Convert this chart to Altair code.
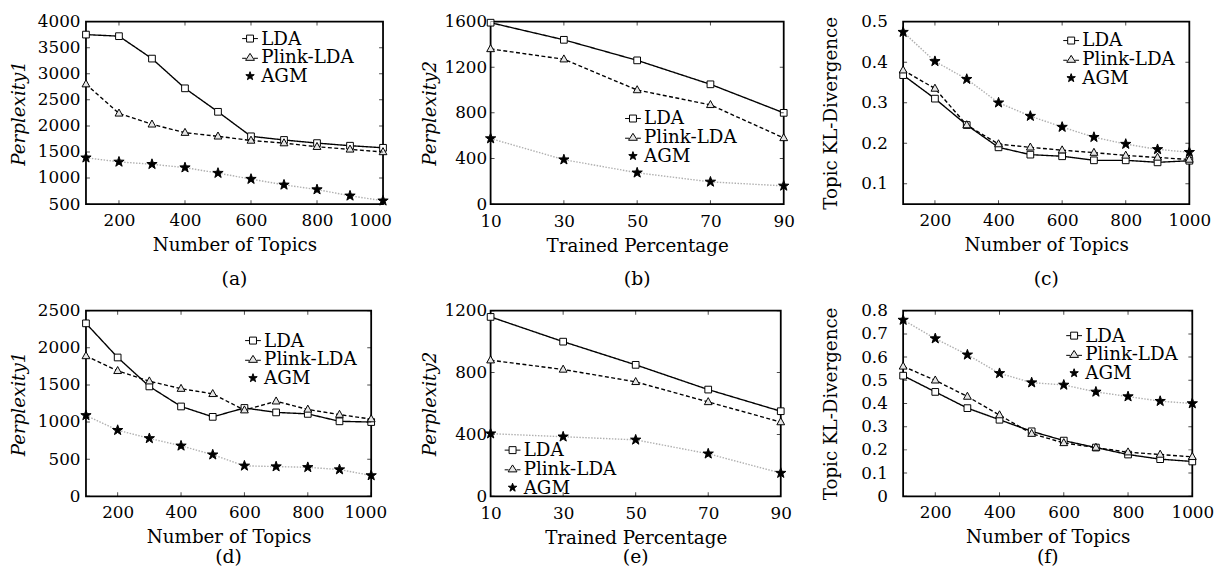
import altair as alt
import pandas as pd

FONT = "DejaVu Serif"
series = ["LDA", "Plink-LDA", "AGM"]
topics = [100, 200, 300, 400, 500, 600, 700, 800, 900, 1000]
percent = [10, 30, 50, 70, 90]

# (a)
a_lda = [3750, 3720, 3290, 2720, 2270, 1800, 1730, 1670, 1620, 1580]
a_plink = [2800, 2240, 2030, 1870, 1800, 1720, 1670, 1600, 1550, 1500]
a_agm = [1390, 1310, 1265, 1200, 1095, 980, 870, 780, 660, 565]
# (b)
b_lda = [1590, 1440, 1260, 1050, 800]
b_plink = [1360, 1270, 1000, 870, 580]
b_agm = [575, 390, 275, 195, 160]
# (c)
c_lda = [0.368, 0.31, 0.245, 0.19, 0.172, 0.168, 0.158, 0.158, 0.153, 0.157]
c_plink = [0.38, 0.335, 0.245, 0.198, 0.19, 0.183, 0.177, 0.17, 0.165, 0.16]
c_agm = [0.474, 0.402, 0.358, 0.300, 0.267, 0.240, 0.215, 0.198, 0.185, 0.178]
# (d)
d_lda = [2330, 1870, 1480, 1210, 1070, 1190, 1130, 1110, 1010, 1000]
d_plink = [1890, 1690, 1550, 1450, 1380, 1160, 1280, 1170, 1100, 1040]
d_agm = [1090, 890, 780, 680, 560, 410, 400, 390, 360, 280]
# (e)
e_lda = [1160, 1000, 850, 690, 550]
e_plink = [880, 820, 740, 610, 480]
e_agm = [405, 385, 365, 275, 150]
# (f)
f_lda = [0.52, 0.45, 0.38, 0.33, 0.28, 0.24, 0.21, 0.18, 0.16, 0.15]
f_plink = [0.56, 0.50, 0.43, 0.35, 0.27, 0.23, 0.21, 0.19, 0.18, 0.17]
f_agm = [0.76, 0.68, 0.61, 0.53, 0.49, 0.48, 0.45, 0.43, 0.41, 0.40]

# marker shapes (unit box -1..1)
SQUARE = "M-0.62,-0.62H0.62V0.62H-0.62Z"
TRIANGLE = "M0,-0.8L0.72,0.5H-0.72Z"
STAR = ("M0,-1L0.235,-0.324L0.951,-0.309L0.380,0.124L0.588,0.809L0,0.4"
        "L-0.588,0.809L-0.380,0.124L-0.951,-0.309L-0.235,-0.324Z")
# legend symbols: marker with short line stubs
LEG_LDA = "M-1,0H-0.44M0.44,0H1M-0.44,-0.44H0.44V0.44H-0.44Z"
LEG_PLINK = "M-1,0.12H-0.5M0.5,0.12H1M0,-0.5L0.56,0.38H-0.56Z"
LEG_AGM = ("M0,-0.56L0.132,-0.181L0.533,-0.173L0.213,0.069L0.329,0.453L0,0.224"
           "L-0.329,0.453L-0.213,0.069L-0.533,-0.173L-0.132,-0.181Z")

LINE_STYLE = {
    "LDA": dict(color="#000000", strokeDash=[1, 0], strokeWidth=1.4),
    "Plink-LDA": dict(color="#000000", strokeDash=[4, 2.5], strokeWidth=1.4),
    "AGM": dict(color="#b0b0b0", strokeDash=[1.5, 1.5], strokeWidth=1.4),
}
FILLS = ["#ffffff", "#e6e6e6", "#000000"]
STROKES = ["#000000", "#000000", "#000000"]


def panel(xv, ys, xtitle, ytitle, italic, xdom, xticks, ydom, yticks,
          caption, legx, legy, w, h, yfmt, lpad, tpad, xlpad, cap_off, last_off):
    rows = []
    for s, vals in zip(series, ys):
        for a, b in zip(xv, vals):
            rows.append({"x": a, "y": b, "series": s})
    df = pd.DataFrame(rows)
    xs = alt.Scale(domain=xdom, nice=False, zero=False)
    ysc = alt.Scale(domain=ydom, nice=False, zero=False)
    X = alt.X("x:Q", scale=xs, axis=alt.Axis(
        values=xticks, title=xtitle, format="d", ticks=False, domain=False, grid=False,
        labelPadding=xlpad, titlePadding=7, labelFlush=False,
        labelOffset=alt.condition("datum.value == %d" % xticks[-1], alt.value(last_off), alt.value(0))))
    Y = alt.Y("y:Q", scale=ysc, axis=alt.Axis(
        values=yticks, title=ytitle, ticks=False, domain=False, grid=False,
        labelPadding=lpad, titlePadding=tpad, format=yfmt,
        titleFontStyle="italic" if italic else "normal"))
    base = alt.Chart(df)
    layers = []
    for s in series:
        layers.append(base.transform_filter(alt.datum.series == s).mark_line(**LINE_STYLE[s]).encode(x=X, y=Y))
    pts = base.mark_point(filled=True, stroke="black", strokeWidth=1, size=120, opacity=1).encode(
        x=X, y=Y,
        shape=alt.Shape("series:N", scale=alt.Scale(domain=series, range=[SQUARE, TRIANGLE, STAR]), legend=None),
        fill=alt.Fill("series:N", scale=alt.Scale(domain=series, range=FILLS), legend=None),
    )
    leg = alt.Legend(title="", orient="none", legendX=legx, legendY=legy, symbolSize=256,
                     symbolStrokeColor="black", symbolStrokeWidth=1, rowPadding=0)
    legend_layer = base.transform_filter("false").mark_point(
        filled=True, strokeWidth=1, size=256, opacity=1).encode(
        x=X, y=Y,
        shape=alt.Shape("series:N", scale=alt.Scale(domain=series, range=[LEG_LDA, LEG_PLINK, LEG_AGM]), legend=leg),
        fill=alt.Fill("series:N", scale=alt.Scale(domain=series, range=FILLS), legend=leg),
        stroke=alt.Stroke("series:N", scale=alt.Scale(domain=series, range=STROKES), legend=leg),
    )
    # inward frame ticks
    yt = pd.DataFrame([{"x": xdom[0], "y": v} for v in yticks] + [{"x": xdom[1], "y": v} for v in yticks])
    xt = pd.DataFrame([{"x": v, "y": ydom[0]} for v in xticks] + [{"x": v, "y": ydom[1]} for v in xticks])
    yticks_l = alt.Chart(yt).mark_tick(orient="horizontal", size=8, thickness=1, color="black", clip=True).encode(x=X, y=Y)
    xticks_l = alt.Chart(xt).mark_tick(orient="vertical", size=8, thickness=1, color="black", clip=True).encode(x=X, y=Y)
    return alt.layer(*layers, pts, legend_layer, yticks_l, xticks_l).resolve_scale(
        shape="independent", fill="independent", stroke="independent"
    ).properties(
        width=w, height=h,
        title=alt.Title(caption, orient="bottom", font=FONT, fontSize=19, fontWeight="normal", offset=cap_off, color="black"),
    )


pa = panel(topics, [a_lda, a_plink, a_agm], "Number of Topics", "Perplexity1", True,
           [100, 1000], [200, 400, 600, 800, 1000], [500, 4000], [500, 1000, 1500, 2000, 2500, 3000, 3500, 4000],
           "(a)", 157, 8, 301, 185, "d", 6, 9, 9, 16, -13)
pb = panel(percent, [b_lda, b_plink, b_agm], "Trained Percentage", "Perplexity2", True,
           [10, 90], percent, [0, 1600], [0, 400, 800, 1200, 1600],
           "(b)", 135, 89, 297, 185, "d", 4, 5, 10, 15, 0)
pc = panel(topics, [c_lda, c_plink, c_agm], "Number of Topics", "Topic KL-Divergence", False,
           [100, 1000], [200, 400, 600, 800, 1000], [0.05, 0.5], [0.1, 0.2, 0.3, 0.4, 0.5],
           "(c)", 161, 10, 290, 185, ".1f", 16, 20, 9, 16, 0)
pd_ = panel(topics, [d_lda, d_plink, d_agm], "Number of Topics", "Perplexity1", True,
            [100, 1000], [200, 400, 600, 800, 1000], [0, 2500], [0, 500, 1000, 1500, 2000, 2500],
            "(d)", 160, 21, 289, 188, "d", 6, 9, 9, 2, -6)
pe = panel(percent, [e_lda, e_plink, e_agm], "Trained Percentage", "Perplexity2", True,
           [10, 90], percent, [0, 1200], [0, 400, 800, 1200],
           "(e)", 13, 132, 294, 188, "d", 4, 5, 10, 1, 0)
pf = panel(topics, [f_lda, f_plink, f_agm], "Number of Topics", "Topic KL-Divergence", False,
           [100, 1000], [200, 400, 600, 800, 1000], [0, 0.8], [0, 0.1, 0.2, 0.3, 0.4, 0.5, 0.6, 0.7, 0.8],
           "(f)", 164, 16, 293, 188, "", 16, 20, 9, 2, 0)

chart = alt.concat(pa, pb, pc, pd_, pe, pf, columns=3, spacing={"row": 11, "column": 26}).resolve_scale(
    shape="independent", fill="independent", stroke="independent"
).resolve_legend(
    shape="independent", fill="independent", stroke="independent"
).properties(background="white", padding=0).configure_view(
    stroke="black", strokeWidth=1.8
).configure_axis(
    labelFont=FONT, titleFont=FONT, labelFontSize=17, titleFontSize=18.5,
    labelColor="black", titleColor="black", titleFontWeight="normal"
).configure_legend(
    labelFont=FONT, labelFontSize=18.5, labelColor="black", padding=0,
    symbolStrokeColor="black", symbolStrokeWidth=1, labelOffset=2
)

chart.save("out.html", embed_options={"renderer": "svg", "actions": False})
